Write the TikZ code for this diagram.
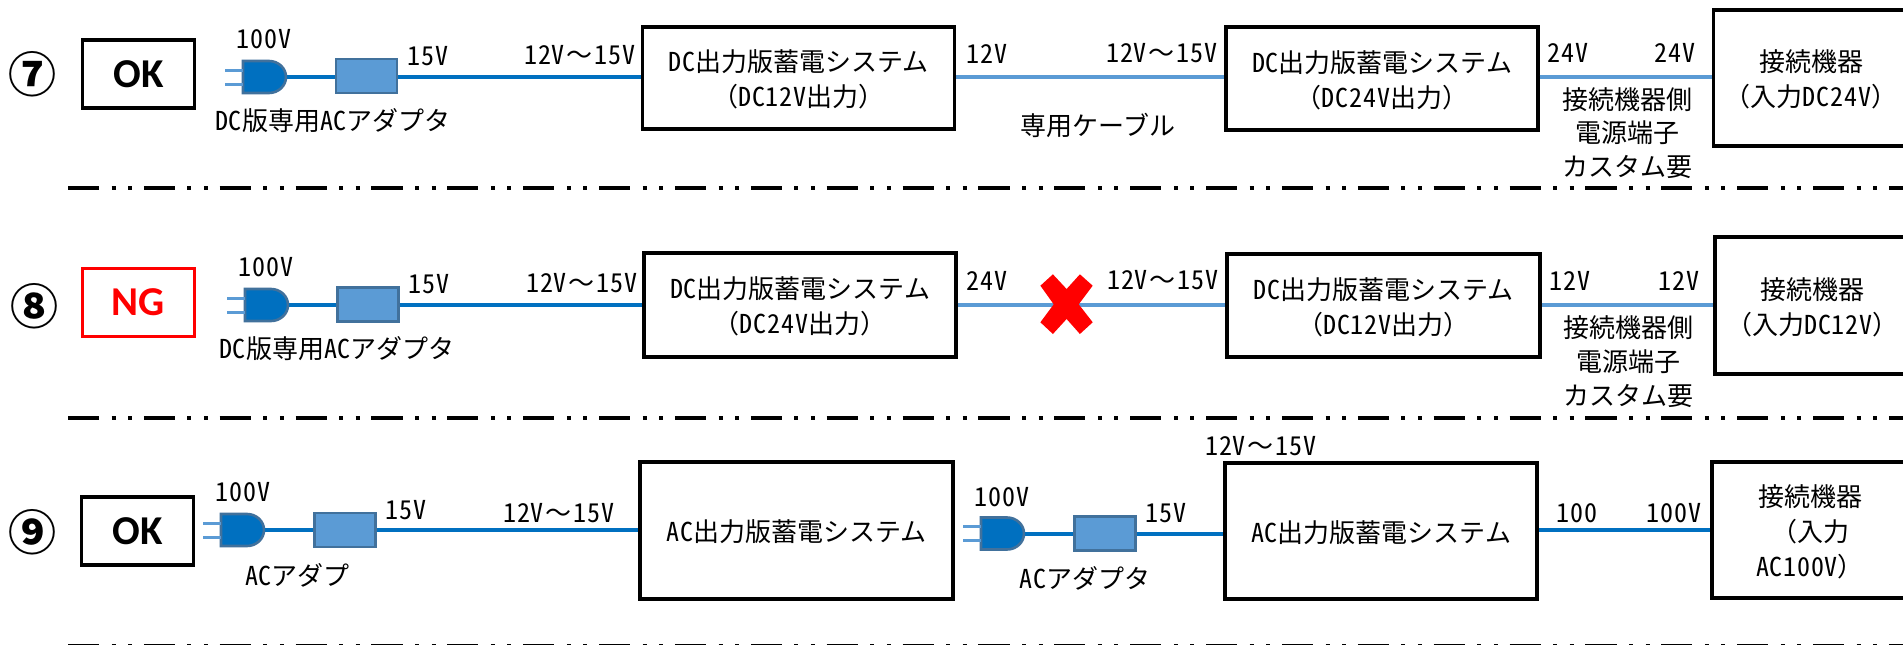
\documentclass[tikz,border=0pt]{standalone}
\usepackage{fontspec}
\setmainfont{Noto Sans CJK JP}
\newfontfamily\hwfont{Noto Sans CJK JP}[RawFeature={+hwid},LetterSpace=3]
\newfontfamily\okfont{Carlito}[BoldFont={Carlito Bold}]
\newcommand{\hw}[1]{{\hwfont #1}}
\newcommand{\labfont}{\fontsize{26}{35}\selectfont}
\newcommand{\vlt}{\hw{12V}\kern2pt～\kern2pt\hw{15V}}
\definecolor{wireblue}{HTML}{0070C0}
\definecolor{lightblue}{HTML}{5B9BD5}
\definecolor{edgeblue}{HTML}{41719C}
\tikzset{
  frame/.style={draw=black,line width=3.4pt,fill=white,inner sep=0pt,minimum width=#1},
  boxtext/.style={font=\labfont,align=center,inner sep=0pt,yshift=-1.5pt},
  lab/.style={font=\labfont,inner sep=0pt,align=center},
  status/.style={line width=3.2pt,fill=white,inner sep=0pt,font=\okfont\fontsize{41}{48}\selectfont\bfseries,minimum width=112pt,minimum height=68pt},
  circnum/.style={font=\fontsize{48}{52}\selectfont\bfseries,inner sep=0pt},
  adapter/.style={draw=edgeblue,line width=2.6pt,fill=lightblue,inner sep=0pt,minimum width=61pt,minimum height=34pt},
  darkwire/.style={draw=wireblue,line width=4pt},
  thinwire/.style={draw=wireblue,line width=3.2pt},
  lightwire/.style={draw=lightblue,line width=4pt},
  pin/.style={draw=lightblue,line width=3pt},
  sep/.style={draw=black,line width=4pt,dash pattern=on 31.1pt off 12.5pt on 4pt off 12.5pt on 4pt off 11.77pt},
}
\newcommand{\plug}[3]{% name, left x of body, centre y
  \path[draw=edgeblue,line width=2.6pt,fill=wireblue,shift={(#2,#3)}]
    (0,-16) -- (26,-16) arc[start angle=-90,end angle=90,x radius=17,y radius=16] -- (0,16) -- cycle;
  \coordinate (#1) at (#2+44,#3);
  \coordinate (#1a) at (#2,#3-7);
  \coordinate (#1b) at (#2,#3+7);
  \coordinate (#1c) at (#2-18,#3-7);
  \coordinate (#1d) at (#2-18,#3+7);
  \draw[pin] (#1a) -- (#1c);
  \draw[pin] (#1b) -- (#1d);
}
\begin{document}
\begin{tikzpicture}[x=1pt,y=-1pt]
\useasboundingbox (0,0) rectangle (1903,645);
\clip (0,0) rectangle (1903,645);
\fill[white] (0,0) rectangle (1903,645);

% ---------- separators
\coordinate (s1a) at (68,188); \coordinate (s1b) at (1910,188);
\coordinate (s2a) at (68,418); \coordinate (s2b) at (1910,418);
\coordinate (s3a) at (68,646); \coordinate (s3b) at (1910,646);
\draw[sep] (s1a) -- (s1b);
\draw[sep] (s2a) -- (s2b);
\draw[sep] (s3a) -- (s3b);

% ---------- row 7
\node[circnum] (n7) at (33,74) {⑦};
\node[status,draw=black] (st7) at (138.5,74) {OK};
\plug{pg7}{243}{77}
\node[adapter] (ad7) at (366.5,76) {};
\node[frame=312pt,minimum height=102pt,label={[boxtext]center:{\hw{DC}出力版蓄電システム\\（\hw{DC12V}出力）}}] (b71) at (798.5,78) {};
\node[frame=312pt,minimum height=103pt,label={[boxtext]center:{\hw{DC}出力版蓄電システム\\（\hw{DC24V}出力）}}] (b72) at (1382,78.5) {};
\node[frame=195pt,minimum height=136pt,label={[boxtext]center:{接続機器\\（入力\hw{DC24V}）}}] (d7) at (1811,78) {};
\draw[thinwire] (pg7) -- (ad7.west |- pg7);
\draw[darkwire] (ad7.east |- pg7) -- (b71.west |- pg7);
\draw[lightwire] (b71.east |- pg7) -- (b72.west |- pg7);
\draw[lightwire] (b72.east |- pg7) -- (d7.west |- pg7);
\node[lab] (t71) at (264,39) {\hw{100V}};
\node[lab] (t72) at (428,56) {\hw{15V}};
\node[lab] (t73) at (580,55) {\vlt};
\node[lab] (t74) at (333,121) {\hw{DC}版専用\hw{AC}アダプタ};
\node[lab] (t75) at (987,54) {\hw{12V}};
\node[lab] (t76) at (1162,53) {\vlt};
\node[lab] (t77) at (1098,125) {専用ケーブル};
\node[lab] (t78) at (1568,53) {\hw{24V}};
\node[lab] (t79) at (1675,53) {\hw{24V}};
\node[lab] (t7a) at (1627,100) {接続機器側};
\node[lab] (t7b) at (1627,133) {電源端子};
\node[lab] (t7c) at (1627,167) {カスタム要};

% ---------- row 8
\node[circnum] (n8) at (34,306) {⑧};
\node[status,draw=red,text=red] (st8) at (138.5,302.5) {NG};
\plug{pg8}{245}{305}
\node[adapter] (ad8) at (368,304.5) {};
\node[frame=312pt,minimum height=104pt,label={[boxtext]center:{\hw{DC}出力版蓄電システム\\（\hw{DC24V}出力）}}] (b81) at (800,305) {};
\node[frame=313pt,minimum height=103pt,label={[boxtext]center:{\hw{DC}出力版蓄電システム\\（\hw{DC12V}出力）}}] (b82) at (1383.5,305.5) {};
\node[frame=195pt,minimum height=137pt,label={[boxtext]center:{接続機器\\（入力\hw{DC12V}）}}] (d8) at (1812.5,305.5) {};
\draw[thinwire] (pg8) -- (ad8.west |- pg8);
\draw[darkwire] (ad8.east |- pg8) -- (b81.west |- pg8);
\draw[lightwire] (b81.east |- pg8) -- (b82.west |- pg8);
\draw[lightwire] (b82.east |- pg8) -- (d8.west |- pg8);
\fill[red] (1052.9,274.3) -- (1066.6,289) -- (1079.9,274.3) -- (1092.7,285.7) -- (1078.7,304.3) -- (1092.7,322.3) -- (1079.9,334) -- (1066.6,319) -- (1052.9,334) -- (1040.4,322.3) -- (1053.7,304.3) -- (1040.4,285.7) -- cycle;
\node[lab] (t81) at (266,267) {\hw{100V}};
\node[lab] (t82) at (429,284) {\hw{15V}};
\node[lab] (t83) at (582,283) {\vlt};
\node[lab] (t84) at (337,349) {\hw{DC}版専用\hw{AC}アダプタ};
\node[lab] (t85) at (987,281) {\hw{24V}};
\node[lab] (t86) at (1163,280) {\vlt};
\node[lab] (t87) at (1570,281) {\hw{12V}};
\node[lab] (t88) at (1679,281) {\hw{12V}};
\node[lab] (t89) at (1628,328) {接続機器側};
\node[lab] (t8a) at (1628,362) {電源端子};
\node[lab] (t8b) at (1628,396) {カスタム要};

% ---------- row 9
\node[circnum] (n9) at (33,532) {⑨};
\node[status,draw=black] (st9) at (137.8,531) {OK};
\plug{pg9}{221}{530}
\node[adapter] (ad9) at (345,530) {};
\node[frame=313pt,minimum height=137pt,label={[boxtext]center:{\hw{AC}出力版蓄電システム}}] (b91) at (796.5,530.5) {};
\plug{pg9b}{981}{533.5}
\node[adapter] (ad9b) at (1105,533.5) {};
\node[frame=312pt,minimum height=136pt,label={[boxtext]center:{\hw{AC}出力版蓄電システム}}] (b92) at (1381,531) {};
\node[frame=196pt,minimum height=136pt,label={[boxtext]center:{接続機器\\（入力\\\hw{AC100V}）}}] (d9) at (1810,530) {};
\draw[thinwire] (pg9) -- (ad9.west |- pg9);
\draw[darkwire] (ad9.east |- pg9) -- (b91.west |- pg9);
\draw[darkwire] (pg9b) -- (ad9b.west |- pg9b);
\draw[darkwire] (ad9b.east |- pg9b) -- (b92.west |- pg9b);
\draw[darkwire] (b92.east |- d9.west) -- (d9.west);
\node[lab] (t91) at (243,492) {\hw{100V}};
\node[lab] (t92) at (406,510) {\hw{15V}};
\node[lab] (t93) at (559,513) {\vlt};
\node[lab] (t94) at (297.5,575) {\hw{AC}アダプ};
\node[lab] (t95) at (1002,497) {\hw{100V}};
\node[lab] (t96) at (1166,513) {\hw{15V}};
\node[lab] (t97) at (1085,578) {\hw{AC}アダプタ};
\node[lab] (t98) at (1261,446) {\vlt};
\node[lab] (t99) at (1577,513) {\hw{100}};
\node[lab] (t9a) at (1674,513) {\hw{100V}};
\end{tikzpicture}
\end{document}
